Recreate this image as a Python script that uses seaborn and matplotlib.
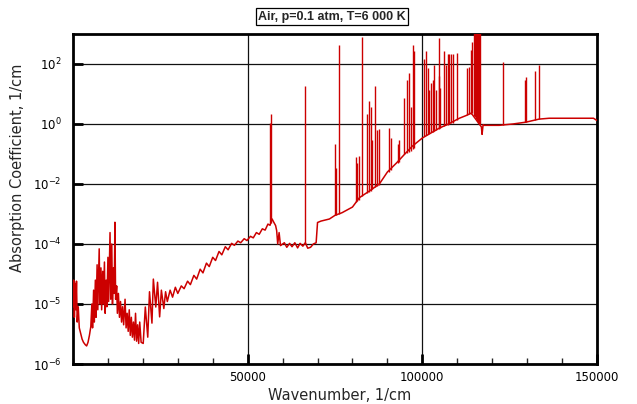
import numpy as np
import pandas as pd
import seaborn as sns
import matplotlib.pyplot as plt
from matplotlib.ticker import FixedLocator, MultipleLocator, NullLocator

sns.set_style('white')
plt.rcParams['font.family'] = ['DejaVu Sans']
plt.rcParams['mathtext.default'] = 'regular'

title = "Air, p=0.1 atm, T=6 000 K"

# continuum (wavenumber 1/cm, absorption 1/cm)
cont_w = [0, 200, 400, 600, 800, 1000, 1200, 1500, 1800, 2200, 2600, 3000, 3500, 3900,
          4300, 4700, 5100, 5400, 5600, 5900, 6100, 6400, 6600, 6900, 7100, 7500, 7700,
          8000, 8200, 8500, 8700, 9000, 9200, 9500, 9700, 10000, 10200, 10600, 10800,
          11100, 11300, 11600, 11800, 12000, 12200, 12500, 12700, 13000, 13300, 13600,
          13900, 14200, 14500, 14900, 15200, 15500, 15800, 16100, 16400, 16700, 17000,
          17300, 17600, 17900, 18200, 18500, 18800, 19100, 19500, 20100,
          20700, 21400, 21900, 22600, 23000,
          23700, 24200, 24800, 25300, 26000, 26500, 27000, 27800, 28500, 29300, 30000,
          31000, 31800, 32800, 33600, 34600, 35400, 36400, 37200, 38200, 39000, 40000,
          40800, 41800, 42600, 43600, 44400, 45400, 46200, 47200, 48000, 49000, 49800,
          50800, 51600, 52500, 53300, 54200, 55000, 55800, 56400, 57000, 57400, 58000,
          58300, 58600, 59000, 59400, 60500, 61200, 62000, 62700, 63500, 64300, 65000,
          65800, 66500, 67200, 68000, 68800, 69600, 70000, 71000, 72000, 73400, 75000,
          77000, 80000, 82000, 85000, 87700, 90000, 92600, 95000, 97100, 100000, 102500,
          104900, 107500, 110600, 112500, 114000, 115000, 116300, 116900, 117100, 117400,
          117700, 120000, 122000, 126000, 129700, 133400, 136300, 143000, 149000, 150000]
cont_k = [9e-6, 2.5e-5, 6e-6, 2.2e-5, 8e-6, 2.4e-5, 5e-6, 9e-6, 4e-6, 3.2e-6, 2.6e-6,
          2.3e-6, 2.1e-6, 2.0e-6, 2.3e-6, 3e-6, 4.2e-6, 1e-5, 4e-6, 1.7e-5, 5e-6, 2.5e-5,
          6e-6, 4.5e-5, 8e-6, 8.3e-5, 1e-5, 4e-5, 8e-6, 3.5e-5, 1e-5, 5e-5, 7e-6, 2.5e-5,
          9e-6, 6e-5, 1.1e-5, 2.4e-4, 1.2e-5, 1e-4, 1e-5, 4e-5, 1.5e-5, 5.3e-4, 1.2e-5,
          2e-5, 7e-6, 1.5e-5, 6e-6, 1.1e-5, 5e-6, 9e-6, 4.5e-6, 1.2e-5, 4e-6, 7e-6, 3.5e-6,
          8e-6, 3e-6, 6e-6, 2.8e-6, 5e-6, 2.5e-6, 7e-6, 2.4e-6, 4.5e-6, 2.2e-6, 5e-6,
          2.3e-6, 2.2e-6,
          8.9e-6, 2.8e-6, 1.6e-5, 4.8e-6, 2.6e-5, 8.9e-6, 2.3e-5, 6.1e-6, 1.7e-5, 8.4e-6,
          1.6e-5, 1.1e-5, 1.7e-5, 1.3e-5, 1.9e-5, 1.5e-5, 2.0e-5, 1.8e-5, 2.4e-5, 2.1e-5,
          3.0e-5, 2.6e-5, 3.8e-5, 3.3e-5, 4.8e-5, 4.2e-5, 6.0e-5, 5.3e-5, 7.5e-5, 6.6e-5,
          9.0e-5, 8.0e-5, 1.05e-4, 9.5e-5, 1.25e-4, 1.1e-4, 1.5e-4, 1.3e-4, 1.8e-4, 1.6e-4,
          2.4e-4, 2.1e-4, 3.2e-4, 2.9e-4, 4.6e-4, 4.2e-4, 6.8e-4, 5.5e-4, 4.1e-4, 2.8e-4,
          1.0e-4, 2.4e-4, 9.4e-5, 1.1e-4, 8.8e-5, 1.05e-4, 9.0e-5, 1.1e-4, 8.6e-5, 1.05e-4,
          9.2e-5, 1.1e-4, 8.5e-5, 8.8e-5, 1.0e-4, 1.1e-4, 5.2e-4, 5.8e-4, 6.2e-4, 6.8e-4,
          9e-4, 1.1e-3, 1.7e-3, 3.5e-3, 6e-3, 1e-2, 2.5e-2, 5e-2, 0.1, 0.18, 0.34, 0.5,
          0.73, 1.0, 1.55, 1.9, 2.3, 1.6, 1.0, 0.8, 0.45, 0.95, 0.9, 0.9, 0.9, 1.0, 1.15,
          1.45, 1.55, 1.55, 1.55, 1.3]

# sharp lines: position, foot, peak
line_w = [56280, 56570, 66480, 75140, 75330, 76090, 81000, 81430, 81860, 82770, 84280,
          84760, 85230, 85710, 86570, 86950, 87510, 90370, 91050, 92950, 93430, 94850,
          95510, 96090, 96760, 97230, 97520, 100570, 101050, 101520, 102000, 102480,
          102950, 103430, 103900, 104660, 104850, 105140, 106280, 106760, 107230, 107710,
          108190, 108660, 110000, 112650, 113220, 113900, 114190, 114860, 115150, 115430,
          115710, 116000, 116290, 116570, 123220, 129420, 129800, 132280, 133430]
line_lo = [5e-4, 5e-4, 1e-4, 9e-4, 9e-4, 1e-3, 2.5e-3, 2.7e-3, 3e-3, 4e-3, 5e-3, 5.5e-3,
           6e-3, 7e-3, 8e-3, 8.5e-3, 9e-3, 2.5e-2, 3e-2, 5e-2, 5.5e-2, 0.1, 0.11, 0.12, 0.13,
           0.15, 0.16, 0.4, 0.42, 0.45, 0.5, 0.52, 0.55, 0.6, 0.65, 0.7, 0.72, 0.75, 0.85,
           0.9, 0.95, 1.0, 1.05, 1.1, 1.4, 2.0, 2.1, 2.2, 2.3, 1.9, 1.7, 1.5, 1.3, 1.1, 1.0,
           0.95, 0.9, 1.15, 1.15, 1.4, 1.45]
line_hi = [1.1, 2.2, 19, 0.22, 0.035, 440, 0.077, 0.05, 0.087, 820, 2.1, 5.7, 3.8, 0.3,
           18, 0.62, 0.7, 0.74, 0.33, 0.21, 0.3, 7.4, 30, 50, 3.6, 430, 260, 150, 260, 73,
           14, 23, 30, 95, 14, 750, 40, 16, 260, 95, 210, 210, 210, 210, 230, 73, 80, 300,
           530, 2000, 2000, 2000, 2000, 2000, 2000, 2000, 120, 30, 37, 60, 95]

y_ticks = [1e-6, 1e-5, 1e-4, 1e-2, 1e0, 1e2]
y_labels = ['$10^{-6}$', '$10^{-5}$', '$10^{-4}$', '$10^{-2}$', '$10^{0}$', '$10^{2}$']
x_ticks = [50000, 100000, 150000]
x_labels = ['50000', '100000', '150000']


# the original axis packs one decade per grid step below 1e-4, two above
def fwd(y):
    l = np.log10(np.clip(np.asarray(y, dtype=float), 1e-300, None))
    return np.where(l <= -4, l + 6, 2 + (l + 4) / 2)


def inv(u):
    u = np.asarray(u, dtype=float)
    return np.where(u <= 2, 10 ** (u - 6), 10 ** (-4 + 2 * (u - 2)))


spec = pd.DataFrame({'w': cont_w, 'k': cont_k})
red = '#cc0000'

fig = plt.figure(figsize=(6.37, 4.04), dpi=100)
ax = fig.add_axes([0.1146, 0.099, 0.8226, 0.817])
ax.set_yscale('function', functions=(fwd, inv))

ax.vlines(line_w, line_lo, line_hi, color=red, lw=1.0, zorder=3)
sns.lineplot(data=spec, x='w', y='k', ax=ax, color=red, lw=1.1, estimator=None,
             sort=False, zorder=3)

ax.set_xlim(0, 150000)
ax.set_ylim(1e-6, 1e3)
ax.yaxis.set_major_locator(FixedLocator(y_ticks))
ax.yaxis.set_minor_locator(NullLocator())
ax.set_yticklabels(y_labels)
ax.set_xticks(x_ticks)
ax.set_xticklabels(x_labels)
ax.xaxis.set_minor_locator(MultipleLocator(10000))

ax.grid(True, which='major', color='#111111', lw=0.9)
for s in ax.spines.values():
    s.set_visible(True)
    s.set_color('black')
    s.set_linewidth(2)

ax.tick_params(axis='both', which='major', direction='in', length=7, width=2,
               labelsize=8.5, colors='black', left=True, bottom=True)
ax.tick_params(axis='x', which='minor', direction='in', length=4, width=1, bottom=True)
ax.tick_params(axis='x', which='major', pad=5)
ax.tick_params(axis='y', which='major', pad=8)

ax.set_xlabel('Wavenumber, 1/cm', fontsize=10.5)
ax.set_ylabel('Absorption Coefficient, 1/cm', fontsize=10.5)
ax.xaxis.set_label_coords(0.508, -0.072)
ax.yaxis.set_label_coords(-0.092, 0.594)

fig.text(0.521, 0.959, title, ha='center', va='center', fontsize=9,
         fontweight='bold', family=['Liberation Sans', 'DejaVu Sans'],
         bbox=dict(boxstyle='square,pad=0.2', fc='white', ec='black', lw=0.9))

plt.savefig('out.png', dpi=100)
